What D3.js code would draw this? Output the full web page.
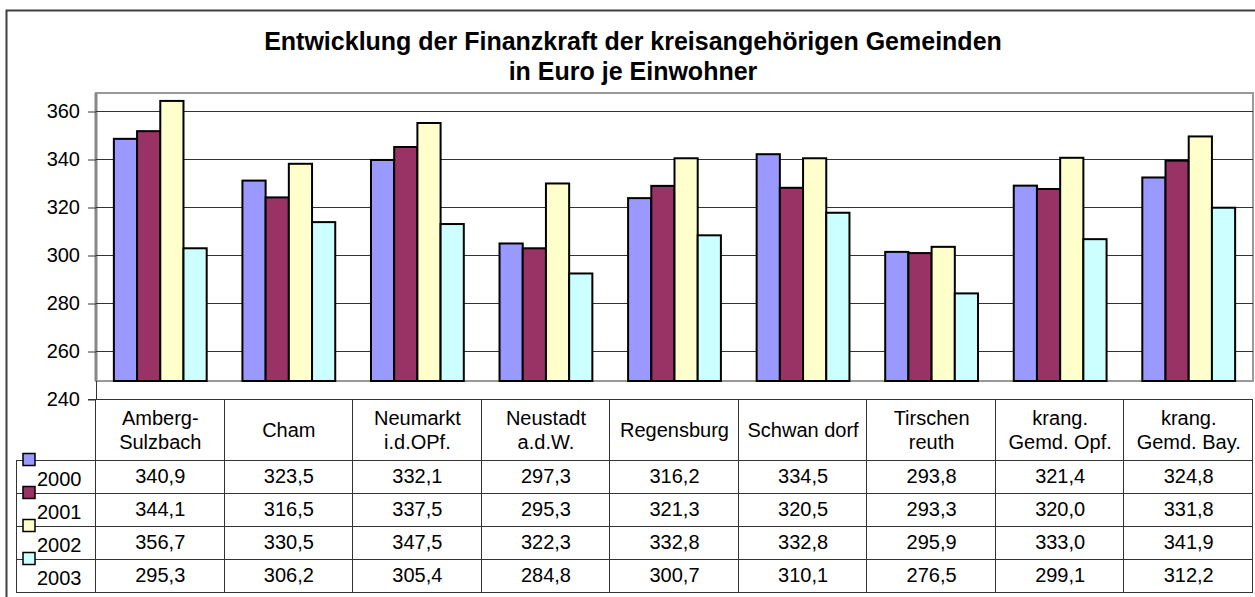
<!DOCTYPE html>
<html>
<head>
<meta charset="utf-8">
<script src="https://cdnjs.cloudflare.com/ajax/libs/d3/7.8.5/d3.min.js"></script>
<style>
	html, body { margin: 0; padding: 0; background: #fff; }
	text { font-family: "Liberation Sans", Arial, sans-serif; fill: #000; }
</style>
</head>
<body>
<div id="viz-container"></div>
<script>
var categories = [
	['Amberg-', 'Sulzbach'],
	['Cham'],
	['Neumarkt', 'i.d.OPf.'],
	['Neustadt', 'a.d.W.'],
	['Regensburg'],
	['Schwan dorf'],
	['Tirschen', 'reuth'],
	['krang.', 'Gemd. Opf.'],
	['krang.', 'Gemd. Bay.']
];
var years = ['2000', '2001', '2002', '2003'];
var values2000 = [340.9, 323.5, 332.1, 297.3, 316.2, 334.5, 293.8, 321.4, 324.8];
var values2001 = [344.1, 316.5, 337.5, 295.3, 321.3, 320.5, 293.3, 320.0, 331.8];
var values2002 = [356.7, 330.5, 347.5, 322.3, 332.8, 332.8, 295.9, 333.0, 341.9];
var values2003 = [295.3, 306.2, 305.4, 284.8, 300.7, 310.1, 276.5, 299.1, 312.2];
var yTicks = [240, 260, 280, 300, 320, 340, 360];
var titleLines = ['Entwicklung der Finanzkraft der kreisangehörigen Gemeinden', 'in Euro je Einwohner'];

var colors = ['#9999ff', '#993366', '#ffffcc', '#ccffff'];
var series = [values2000, values2001, values2002, values2003];

visualize();

function visualize () {
	var width = 1255,
		height = 597,
		left = 96,
		right = 1253,
		depth = 18,          // 3d offset of the bars against the back wall
		tableTop = 399,
		headH = 61,
		rowH = 33,
		labelLeft = 16,
		fontSize = 20;

	var fmt = d3.formatLocale({decimal: ',', thousands: '.', grouping: [3], currency: ['', '']}).format('.1f');

	var svg = d3.select('#viz-container')
		.append('svg')
		.attr('width', width)
		.attr('height', height);

	// outer frame (only left and top are visible)
	svg.append('path')
		.attr('d', 'M6.5,' + height + 'V10.5H' + width)
		.attr('fill', 'none')
		.attr('stroke', '#404040')
		.attr('stroke-width', 2);

	// title
	svg.append('text')
		.attr('x', 633)
		.attr('text-anchor', 'middle')
		.style('font-weight', 'bold')
		.style('font-size', '25px')
		.selectAll('tspan')
		.data(titleLines)
		.enter()
		.append('tspan')
		.attr('x', 633)
		.attr('y', function (d, i) { return 50 + i * 30; })
		.text(function (d) { return d; });

	var y = d3.scaleLinear()
		.domain([240, 360])
		.range([tableTop, 111]);

	var x = d3.scaleBand()
		.domain(d3.range(categories.length))
		.range([left, right])
		.padding(0);

	var xs = d3.scaleBand()
		.domain(years)
		.range([0, x.bandwidth()])
		.paddingInner(0)
		.paddingOuter(0.77);

	// back wall
	svg.append('rect')
		.attr('x', left)
		.attr('y', y(360) - depth)
		.attr('width', right - left)
		.attr('height', y(240) - y(360))
		.attr('fill', 'none')
		.attr('stroke', '#999')
		.attr('stroke-width', 2);
	svg.append('line')
		.attr('x1', left).attr('x2', left)
		.attr('y1', y(360) - depth).attr('y2', y(240) - depth)
		.attr('stroke', '#888')
		.attr('stroke-width', 3);

	// gridlines
	svg.append('g')
		.selectAll('line')
		.data(yTicks.filter(function (d) { return d > 240; }))
		.enter()
		.append('line')
		.attr('x1', left)
		.attr('x2', right)
		.attr('y1', function (d) { return Math.round(y(d)) + 0.5; })
		.attr('y2', function (d) { return Math.round(y(d)) + 0.5; })
		.attr('stroke', '#333')
		.attr('stroke-width', 1);

	// value axis
	var axis = svg.append('g')
		.attr('transform', 'translate(' + left + ',0.5)')
		.call(d3.axisLeft(y).tickValues(yTicks).tickSize(8).tickPadding(8).tickFormat(d3.format('d')));
	axis.select('.domain').remove();
	axis.selectAll('line').attr('stroke', '#333');
	axis.selectAll('text')
		.style('font-family', '"Liberation Sans", Arial, sans-serif')
		.style('font-size', fontSize + 'px')
		.attr('fill', '#000');

	// bars
	svg.append('g')
		.selectAll('g')
		.data(series)
		.enter()
		.append('g')
		.attr('fill', function (d, i) { return colors[i]; })
		.each(function (vals, si) {
			d3.select(this).selectAll('rect')
				.data(vals)
				.enter()
				.append('rect')
				.attr('x', function (d, i) { return x(i) + xs(years[si]); })
				.attr('width', xs.bandwidth())
				.attr('y', function (d) { return y(d) - depth; })
				.attr('height', function (d) { return y(240) - y(d); })
				.attr('stroke', '#000')
				.attr('stroke-width', 2);
		});

	// data table
	var table = svg.append('g').attr('stroke', '#333').attr('stroke-width', 1);
	table.append('line')
		.attr('x1', left - 8).attr('x2', right)
		.attr('y1', tableTop + 0.5).attr('y2', tableTop + 0.5);
	table.append('line')
		.attr('x1', left + 0.5).attr('x2', left + 0.5)
		.attr('y1', y(240) - depth).attr('y2', tableTop);
	table.selectAll('.vline')
		.data(d3.range(categories.length + 1))
		.enter()
		.append('line')
		.attr('class', 'vline')
		.attr('x1', function (d) { return Math.round(left + d * x.step()) - 0.5; })
		.attr('x2', function (d) { return Math.round(left + d * x.step()) - 0.5; })
		.attr('y1', tableTop)
		.attr('y2', tableTop + headH + rowH * years.length);
	table.selectAll('.hline')
		.data(d3.range(years.length + 1))
		.enter()
		.append('line')
		.attr('class', 'hline')
		.attr('x1', labelLeft)
		.attr('x2', right)
		.attr('y1', function (d) { return tableTop + headH + d * rowH + 0.5; })
		.attr('y2', function (d) { return tableTop + headH + d * rowH + 0.5; });
	table.append('line')
		.attr('x1', labelLeft + 0.5).attr('x2', labelLeft + 0.5)
		.attr('y1', tableTop + headH).attr('y2', tableTop + headH + rowH * years.length);

	// header cells
	svg.append('g')
		.selectAll('text')
		.data(categories)
		.enter()
		.append('text')
		.attr('text-anchor', 'middle')
		.style('font-size', fontSize + 'px')
		.each(function (lines, i) {
			var cx = x(i) + x.bandwidth() / 2;
			var base = lines.length === 1 ? tableTop + 38 : tableTop + 26;
			d3.select(this).selectAll('tspan')
				.data(lines)
				.enter()
				.append('tspan')
				.attr('x', cx)
				.attr('y', function (d, j) { return base + j * 24; })
				.text(function (d) { return d; });
		});

	// rows
	var rows = svg.append('g')
		.selectAll('g')
		.data(series)
		.enter()
		.append('g')
		.attr('transform', function (d, i) { return 'translate(0,' + (tableTop + headH + i * rowH) + ')'; });

	rows.append('rect')
		.attr('x', 23)
		.attr('y', -6.5)
		.attr('width', 12)
		.attr('height', 12)
		.attr('fill', function (d, i) { return colors[i]; })
		.attr('stroke', '#000')
		.attr('stroke-width', 1.5);

	rows.append('text')
		.attr('x', 37)
		.attr('y', 26)
		.style('font-size', fontSize + 'px')
		.text(function (d, i) { return years[i]; });

	rows.selectAll('.val')
		.data(function (d) { return d; })
		.enter()
		.append('text')
		.attr('class', 'val')
		.attr('x', function (d, i) { return x(i) + x.bandwidth() / 2; })
		.attr('y', 23)
		.attr('text-anchor', 'middle')
		.style('font-size', fontSize + 'px')
		.text(function (d) { return fmt(d); });
}
</script>
</body>
</html>
